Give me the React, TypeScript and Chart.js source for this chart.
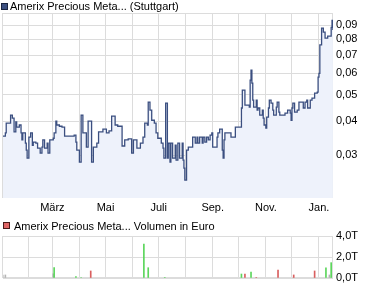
import React, { useEffect, useRef } from "react";
import { Chart, registerables } from "chart.js";

Chart.register(...registerables);

// Price series (day offset within the period, closing price in EUR)
const priceDays = [
  2, 5, 6, 9, 11, 13, 15, 17, 18, 21, 23, 24, 25, 28, 29, 30, 32, 34, 36, 37,
  40, 42, 45, 47, 48, 50, 53, 54, 56, 60, 61, 63, 64, 67, 70, 73, 82, 84, 86, 87,
  90, 92, 94, 98, 100, 103, 104, 106, 110, 112, 117, 121, 124, 127, 131, 134, 139, 142, 146, 150,
  152, 156, 160, 163, 165, 168, 169, 171, 173, 176, 178, 180, 184, 186, 187, 189, 191, 192, 194, 195,
  197, 200, 201, 203, 205, 208, 209, 210, 211, 213, 215, 219, 220, 223, 225, 226, 228, 231, 232, 234,
  236, 238, 240, 242, 243, 247, 248, 249, 251, 254, 255, 256, 257, 263, 264, 267, 269, 273, 276, 277,
  278, 280, 285, 286, 287, 288, 289, 290, 293, 294, 295, 297, 300, 301, 302, 304, 305, 307, 308, 310,
  312, 313, 316, 317, 319, 320, 326, 329, 332, 333, 334, 335, 337, 340, 342, 345, 347, 349, 351, 352,
  355, 357, 360, 363, 364, 365, 366, 368, 370, 372, 375, 378, 379, 380, 381,
];
const prices = [
  0.0352, 0.0362, 0.0393, 0.0393, 0.0421, 0.041, 0.0365, 0.0397, 0.038, 0.0387, 0.0362, 0.0341, 0.0362, 0.0332, 0.0313, 0.02925, 0.0349, 0.0362, 0.0326, 0.0335,
  0.0332, 0.0318, 0.0305, 0.0321, 0.0341, 0.0318, 0.0332, 0.0305, 0.0341, 0.0346, 0.0362, 0.04, 0.0387, 0.0383, 0.038, 0.0352, 0.0352, 0.0355, 0.0335, 0.0313,
  0.02827, 0.0421, 0.0362, 0.0321, 0.04, 0.04, 0.02827, 0.0321, 0.0332, 0.0365, 0.0374, 0.0362, 0.0368, 0.0417, 0.0387, 0.0383, 0.0324, 0.0341, 0.0344, 0.0305,
  0.0341, 0.0318, 0.0332, 0.0349, 0.0393, 0.0387, 0.047, 0.0439, 0.0403, 0.0393, 0.0362, 0.0346, 0.0332, 0.0318, 0.02925, 0.0466, 0.02925, 0.0332, 0.02827, 0.0332,
  0.02925, 0.0326, 0.02876, 0.0332, 0.02925, 0.0332, 0.02876, 0.02688, 0.02427, 0.0313, 0.0321, 0.0321, 0.0349, 0.0332, 0.0349, 0.0332, 0.0349, 0.0332, 0.0349, 0.0335,
  0.0349, 0.0341, 0.0355, 0.0362, 0.0321, 0.0321, 0.0349, 0.0362, 0.0374, 0.0313, 0.02925, 0.0341, 0.0362, 0.0362, 0.0349, 0.0349, 0.038, 0.038, 0.0447, 0.052,
  0.052, 0.0458, 0.045, 0.0566, 0.0616, 0.0552, 0.0478, 0.045, 0.0478, 0.0439, 0.0447, 0.0421, 0.0439, 0.041, 0.0387, 0.0377, 0.0414, 0.0447, 0.0478, 0.0466,
  0.0439, 0.0421, 0.045, 0.047, 0.0432, 0.0421, 0.0428, 0.0439, 0.0428, 0.0403, 0.0447, 0.0466, 0.0432, 0.0439, 0.047, 0.047, 0.0447, 0.047, 0.0478, 0.0447,
  0.0478, 0.0486, 0.0507, 0.0511, 0.0581, 0.06, 0.0763, 0.088, 0.085, 0.0808, 0.0822, 0.0822, 0.0886, 0.094, 0.0865,
];

// Month starts (day offsets) and their labels
const monthDays = [31, 59, 90, 120, 151, 181, 212, 243, 273, 304, 334, 365];
const monthLabels = ["", "März", "", "Mai", "", "Juli", "", "Sep.", "", "Nov.", "", "Jan."];

const priceTicks = [0.03, 0.04, 0.05, 0.06, 0.07, 0.08, 0.09];

// Volume series (EUR)
const volumeDays = [2, 5, 60, 61, 86, 92, 103, 164, 169, 188, 276, 280, 287, 293, 318, 336, 360, 373, 377, 379];
const volumes = [290, 290, 400, 1000, 130, 50, 670, 3240, 980, 50, 380, 380, 570, 50, 760, 290, 670, 980, 290, 1460];
const volumeKinds = ["flat", "flat", "flat", "up", "up", "up", "down", "up", "up", "up", "up", "down", "up", "down", "down", "down", "down", "up", "flat", "up"];
const volumeTicks = [0, 2000, 4000];

const FONT = '"Liberation Sans", Arial, Helvetica, sans-serif';
const GRID = "#dcdcdc";
const LINE = "#3b4f80";
const FILL = "#eef2fb";
const KIND_COLORS: Record<string, string> = { up: "#5cd65c", down: "#d95f5f", flat: "#b5b5b5" };

const X_MIN = 2.3;
const X_MAX = 381.1;

const frame = {
  id: "frame",
  beforeDatasetsDraw(chart: any) {
    const { ctx, chartArea: a } = chart;
    ctx.save();
    ctx.strokeStyle = GRID;
    ctx.lineWidth = 1;
    ctx.strokeRect(Math.round(a.left) - 0.5, Math.round(a.top) + 0.5, Math.round(a.right - a.left), Math.round(a.bottom - a.top) - 1);
    ctx.restore();
  },
};

export default function App() {
  const topRef = useRef<HTMLCanvasElement>(null);
  const botRef = useRef<HTMLCanvasElement>(null);

  useEffect(() => {
    Chart.defaults.font.family = FONT;
    Chart.defaults.font.size = 11;
    Chart.defaults.color = "#000";

    const xScale = (showLabels: boolean, height: number) => ({
      type: "linear" as const,
      min: X_MIN,
      max: X_MAX,
      offset: false,
      afterBuildTicks: (axis: any) => {
        axis.ticks = monthDays.map((v) => ({ value: v }));
      },
      ticks: {
        display: showLabels,
        autoSkip: false,
        maxRotation: 0,
        padding: 3,
        callback: (_v: any, i: number) => monthLabels[i],
      },
      grid: { color: GRID, drawTicks: false, tickLength: 0, offset: false },
      border: { display: false },
      afterFit: (s: any) => {
        s.height = height;
      },
    });

    const top = new Chart(topRef.current!, {
      type: "line",
      data: {
        datasets: [
          {
            data: priceDays.map((d, i) => ({ x: d, y: prices[i] })),
            stepped: "before",
            borderColor: LINE,
            borderWidth: 1.3,
            backgroundColor: FILL,
            fill: "start",
            pointRadius: 0,
          },
        ],
      },
      options: {
        responsive: false,
        animation: false,
        events: [],
        layout: { padding: { top: 13, left: 3, right: 0, bottom: 0 } },
        plugins: { legend: { display: false }, tooltip: { enabled: false } },
        scales: {
          x: xScale(true, 17) as any,
          y: {
            type: "logarithmic",
            position: "right",
            min: 0.02085,
            max: 0.1,
            afterBuildTicks: (axis: any) => {
              axis.ticks = priceTicks.map((v) => ({ value: v }));
            },
            ticks: {
              padding: 3,
              callback: (v: any) => Number(v).toFixed(2).replace(".", ","),
            },
            grid: { color: GRID, drawTicks: false, tickLength: 0 },
            border: { display: false },
            afterFit: (s: any) => {
              s.width = 42;
            },
          } as any,
        },
      },
      plugins: [frame],
    });

    const bot = new Chart(botRef.current!, {
      type: "bar",
      data: {
        datasets: [
          {
            data: volumeDays.map((d, i) => ({ x: d, y: volumes[i] })),
            backgroundColor: volumeKinds.map((k) => KIND_COLORS[k]),
            barThickness: 1,
            borderWidth: 0,
          },
        ],
      },
      options: {
        responsive: false,
        animation: false,
        events: [],
        layout: { padding: { top: 21, left: 3, right: 0, bottom: 0 } },
        plugins: { legend: { display: false }, tooltip: { enabled: false } },
        scales: {
          x: xScale(false, 10) as any,
          y: {
            type: "linear",
            position: "right",
            min: 0,
            max: 4000,
            afterBuildTicks: (axis: any) => {
              axis.ticks = volumeTicks.map((v) => ({ value: v }));
            },
            ticks: {
              padding: 3,
              callback: (v: any) => (Number(v) / 1000).toFixed(1).replace(".", ",") + "T",
            },
            grid: { color: GRID, drawTicks: false, tickLength: 0 },
            border: { display: false },
            afterFit: (s: any) => {
              s.width = 42;
            },
          } as any,
        },
      },
      plugins: [frame],
    });

    return () => {
      top.destroy();
      bot.destroy();
    };
  }, []);

  const legendText: React.CSSProperties = {
    position: "absolute",
    font: `11px ${FONT}`,
    lineHeight: "12px",
    color: "#000",
    whiteSpace: "nowrap",
  };
  const box = (bg: string, border: string, left: number, topPx: number): React.CSSProperties => ({
    position: "absolute",
    left,
    top: topPx,
    width: 5,
    height: 5,
    background: bg,
    border: `1px solid ${border}`,
  });

  return (
    <div style={{ position: "absolute", left: 0, top: 0, width: 375, height: 288, background: "#fff", overflow: "hidden" }}>
      <canvas ref={topRef} width={375} height={215} style={{ position: "absolute", left: 0, top: 0, width: 375, height: 215 }} />
      <canvas ref={botRef} width={375} height={73} style={{ position: "absolute", left: 0, top: 215, width: 375, height: 73 }} />
      <div style={box("#3b4f80", "#1a2440", 1, 3)} />
      <div style={{ ...legendText, left: 10, top: 0 }}>Amerix Precious Meta... (Stuttgart)</div>
      <div style={box("#e06666", "#4a1a1a", 3, 222)} />
      <div style={{ ...legendText, left: 14, top: 220 }}>Amerix Precious Meta... Volumen in Euro</div>
    </div>
  );
}
